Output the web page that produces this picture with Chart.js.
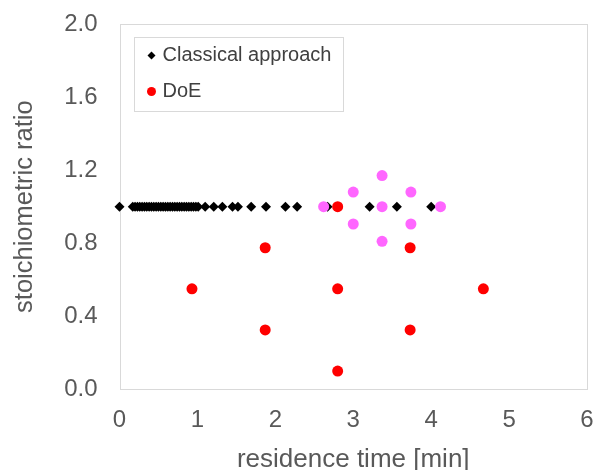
<!DOCTYPE html>
<html>
<head>
<meta charset="utf-8">
<script src="https://cdn.jsdelivr.net/npm/chart.js@4"></script>
<style>
html,body{margin:0;padding:0;background:#fff;overflow:hidden;}
#wrap{width:595px;height:470px;position:relative;}
</style>
</head>
<body>
<div id="wrap"><canvas id="c"></canvas></div>
<script>
// ---- data ----
const classicalTime = [0, 0.17, 0.2, 0.23, 0.26, 0.29, 0.32, 0.35, 0.38, 0.41, 0.44, 0.47, 0.5, 0.53, 0.56, 0.59, 0.62, 0.65, 0.68, 0.71, 0.74, 0.77, 0.8, 0.83, 0.86, 0.89, 0.92, 0.95, 0.98, 1.01, 1.1, 1.21, 1.32, 1.45, 1.52, 1.69, 1.88, 2.13, 2.28, 2.67, 3.21, 3.56, 4.0];
const classicalRatio = [1.0, 1.0, 1.0, 1.0, 1.0, 1.0, 1.0, 1.0, 1.0, 1.0, 1.0, 1.0, 1.0, 1.0, 1.0, 1.0, 1.0, 1.0, 1.0, 1.0, 1.0, 1.0, 1.0, 1.0, 1.0, 1.0, 1.0, 1.0, 1.0, 1.0, 1.0, 1.0, 1.0, 1.0, 1.0, 1.0, 1.0, 1.0, 1.0, 1.0, 1.0, 1.0, 1.0];
const doeTime  = [0.93, 1.87, 1.87, 2.8, 2.8, 2.8, 3.73, 3.73, 4.67];
const doeRatio = [0.55, 0.775, 0.325, 1.0, 0.55, 0.1, 0.775, 0.325, 0.55];
const doe2Time  = [2.62, 3.0, 3.0, 3.37, 3.37, 3.37, 3.74, 3.74, 4.12];
const doe2Ratio = [1.0, 1.08, 0.905, 1.17, 1.0, 0.81, 1.08, 0.905, 1.0];
const xTicks = [0, 1, 2, 3, 4, 5, 6];
const yTicks = [0.0, 0.4, 0.8, 1.2, 1.6, 2.0];
const seriesNames = ['Classical approach', 'DoE'];
const xTitle = 'residence time [min]';
const yTitle = 'stoichiometric ratio';

const pts = (xs, ys) => xs.map((x, i) => ({x: x, y: ys[i]}));
const FONT = '"Liberation Sans", Arial, sans-serif';
const TXT = '#595959';

const frame = {
  id: 'frame',
  beforeDatasetsDraw(chart) {
    const a = chart.chartArea, ctx = chart.ctx;
    ctx.save();
    ctx.strokeStyle = '#d9d9d9';
    ctx.lineWidth = 1;
    ctx.strokeRect(Math.round(a.left) + 0.5, Math.round(a.top) + 0.5,
                   Math.round(a.right - a.left) - 1, Math.round(a.bottom - a.top));
    ctx.restore();
  },
  afterDraw(chart) {
    const a = chart.chartArea, ctx = chart.ctx;
    const bx = Math.round(a.left + 14) + 0.5, by = Math.round(a.top + 13) + 0.5;
    const bw = 209, bh = 74;
    ctx.save();
    ctx.fillStyle = '#fff';
    ctx.fillRect(bx, by, bw, bh);
    ctx.strokeStyle = '#d9d9d9';
    ctx.lineWidth = 1;
    ctx.strokeRect(bx, by, bw, bh);
    // item 1: diamond
    let mx = bx + 17, my = by + 18;
    ctx.fillStyle = '#000';
    ctx.beginPath();
    ctx.moveTo(mx - 4, my); ctx.lineTo(mx, my - 4); ctx.lineTo(mx + 4, my); ctx.lineTo(mx, my + 4);
    ctx.closePath(); ctx.fill();
    ctx.font = '20px ' + FONT;
    ctx.fillStyle = '#404040';
    ctx.textBaseline = 'middle';
    ctx.fillText(seriesNames[0], bx + 28, my);
    // item 2: circle
    my = by + 54;
    ctx.fillStyle = '#ff0000';
    ctx.beginPath(); ctx.arc(mx, my, 4.5, 0, Math.PI * 2); ctx.fill();
    ctx.fillStyle = '#404040';
    ctx.fillText(seriesNames[1], bx + 28, my);
    ctx.restore();
  }
};

const hiddenGrid = len => ({display: true, drawOnChartArea: false, drawTicks: true, tickLength: len,
                            color: 'rgba(0,0,0,0)', tickColor: 'rgba(0,0,0,0)'});

new Chart(document.getElementById('c'), {
  type: 'scatter',
  data: {
    datasets: [
      {label: seriesNames[0], data: pts(classicalTime, classicalRatio), pointStyle: 'rectRot',
       pointRadius: 5, backgroundColor: '#000', borderColor: '#000', borderWidth: 0, order: 3, clip: false},
      {label: 'DoE (2)', data: pts(doe2Time, doe2Ratio), pointStyle: 'circle',
       pointRadius: 5.5, backgroundColor: '#ff66ff', borderColor: '#ff66ff', borderWidth: 0, order: 2, clip: false},
      {label: seriesNames[1], data: pts(doeTime, doeRatio), pointStyle: 'circle',
       pointRadius: 5.5, backgroundColor: '#ff0000', borderColor: '#ff0000', borderWidth: 0, order: 1, clip: false}
    ]
  },
  options: {
    responsive: true,
    maintainAspectRatio: false,
    animation: false,
    events: [],
    layout: {padding: {top: 24, right: 8, left: 0, bottom: 0}},
    plugins: {legend: {display: false}, tooltip: {enabled: false}},
    scales: {
      x: {
        type: 'linear', min: 0, max: 6,
        afterBuildTicks: s => { s.ticks = xTicks.map(v => ({value: v})); },
        afterFit: s => { s.height = 80.7; },
        grid: hiddenGrid(17),
        border: {display: false},
        ticks: {padding: 0, color: TXT, font: {family: FONT, size: 24}, callback: v => String(v)},
        title: {display: true, text: xTitle, color: TXT, font: {family: FONT, size: 26}, padding: {top: 0, bottom: -5.6}}
      },
      y: {
        type: 'linear', min: 0, max: 2,
        afterBuildTicks: s => { s.ticks = yTicks.map(v => ({value: v})); },
        afterFit: s => { s.width = 119.5; },
        grid: hiddenGrid(22),
        border: {display: false},
        ticks: {padding: 0, color: TXT, font: {family: FONT, size: 24}, callback: v => Number(v).toFixed(1)},
        title: {display: true, text: yTitle, color: TXT, font: {family: FONT, size: 25.5}, padding: {top: 10, bottom: 0}}
      }
    }
  },
  plugins: [frame]
});
</script>
</body>
</html>
